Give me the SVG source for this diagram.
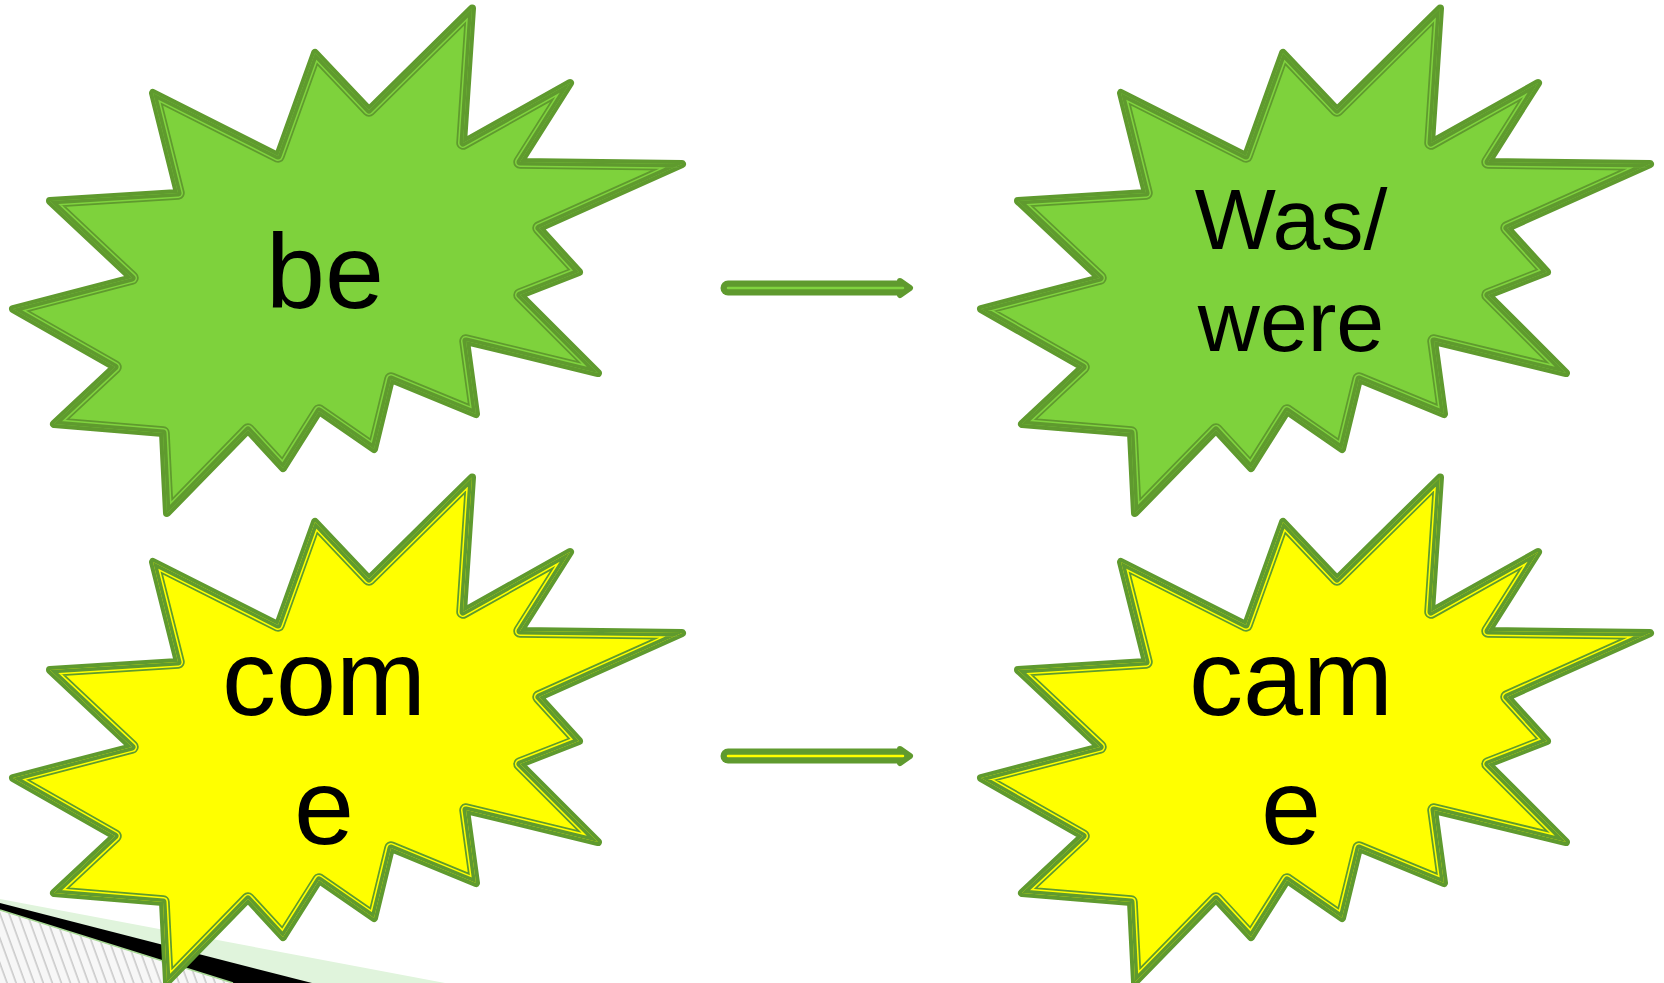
<svg xmlns="http://www.w3.org/2000/svg" xmlns:xlink="http://www.w3.org/1999/xlink" width="1664" height="983" viewBox="0 0 1664 983">
<style>
.base{stroke:#5F9A2E;stroke-width:8;stroke-linejoin:round}
.green{fill:#7ED23C}
.yellow{fill:#FFFF00}
.s11{fill:none;stroke:#5F9A2E;stroke-width:13.5;stroke-linejoin:round}
.gapg{fill:none;stroke:#80D33F;stroke-width:10;stroke-linejoin:round}
.gapy{fill:none;stroke:#FFFF00;stroke-width:10;stroke-linejoin:round}
.s5{fill:none;stroke:#5F9A2E;stroke-width:7;stroke-linejoin:round}
.lbl{font-family:"Liberation Sans",Arial,sans-serif;fill:#000;text-anchor:middle}
.body{stroke:#5F9A2E;stroke-width:15;stroke-linecap:round;fill:none}
.core{stroke-width:2.5;stroke-linecap:round;fill:none}
</style>
<defs>
<path id="burst" d="M472,8.5 L369,110 L315,53 L278,156 L153,93 L178,193 L50,201 L132,278 L13,309 L115,367 L54,424 L163,433 L167,513 L248,430 L283,468 L319,411 L374,449 L391,379 L476,414 L466,341 L598,373 L520,295 L579,272 L539,228 L682,164 L520,162 L570,83 L463,143 Z"/>
<clipPath id="inside"><use xlink:href="#burst" href="#burst"/></clipPath>
<pattern id="hatch" width="8.5" height="20" patternUnits="userSpaceOnUse" patternTransform="rotate(-20)">
<rect width="8.5" height="20" fill="#F7F7F7"/>
<line x1="2" y1="0" x2="2" y2="20" stroke="#C4C4C4" stroke-width="1.4"/>
</pattern>
<marker id="head" markerUnits="userSpaceOnUse" viewBox="0 0 20 24" markerWidth="20" markerHeight="24" refX="4" refY="12" orient="auto" overflow="visible">
<path d="M4,5 L14,12 L4,19 Z" fill="#5F9A2E" stroke="#5F9A2E" stroke-width="6" stroke-linejoin="round"/>
</marker>
</defs>
<rect width="1664" height="983" fill="#FFFFFF"/>
<g id="decoration">
<polygon points="0,899 445,983 0,983" fill="#E0F4DC"/>
<polygon points="0,903 312,983 0,983" fill="#000000"/>
<polygon points="0,910 233,983 0,983" fill="url(#hatch)"/>
<line x1="0" y1="910" x2="233" y2="983" stroke="#A8DA95" stroke-width="1.5"/>
</g>
<g id="connectors">
<g id="arrow-top">
<line class="body" x1="728" y1="288" x2="900" y2="288" marker-end="url(#head)"/>
<line class="core" x1="728" y1="288" x2="903" y2="288" stroke="#80D33F"/>
</g>
<g id="arrow-bottom">
<line class="body" x1="728" y1="756" x2="900" y2="756" marker-end="url(#head)"/>
<line class="core" x1="728" y1="756" x2="903" y2="756" stroke="#FFFF00"/>
</g>
</g>
<g id="node-be">
<use xlink:href="#burst" href="#burst" class="base green"/>
<g clip-path="url(#inside)">
<use xlink:href="#burst" href="#burst" class="s11"/>
<use xlink:href="#burst" href="#burst" class="gapg"/>
<use xlink:href="#burst" href="#burst" class="s5"/>
</g>
<text class="lbl" x="325" y="308" font-size="106">be</text>
</g>
<g id="node-was-were" transform="translate(968,0)">
<use xlink:href="#burst" href="#burst" class="base green"/>
<g clip-path="url(#inside)">
<use xlink:href="#burst" href="#burst" class="s11"/>
<use xlink:href="#burst" href="#burst" class="gapg"/>
<use xlink:href="#burst" href="#burst" class="s5"/>
</g>
<text class="lbl" x="323" y="249" font-size="86">Was/</text>
<text class="lbl" x="323" y="351" font-size="86">were</text>
</g>
<g id="node-come" transform="translate(0,469)">
<use xlink:href="#burst" href="#burst" class="base yellow"/>
<g clip-path="url(#inside)">
<use xlink:href="#burst" href="#burst" class="s11"/>
<use xlink:href="#burst" href="#burst" class="gapy"/>
<use xlink:href="#burst" href="#burst" class="s5"/>
</g>
<text class="lbl" x="324" y="246" font-size="108">com</text>
<text class="lbl" x="324" y="375" font-size="108">e</text>
</g>
<g id="node-came" transform="translate(968,469)">
<use xlink:href="#burst" href="#burst" class="base yellow"/>
<g clip-path="url(#inside)">
<use xlink:href="#burst" href="#burst" class="s11"/>
<use xlink:href="#burst" href="#burst" class="gapy"/>
<use xlink:href="#burst" href="#burst" class="s5"/>
</g>
<text class="lbl" x="323" y="246" font-size="108">cam</text>
<text class="lbl" x="323" y="375" font-size="108">e</text>
</g>
</svg>
